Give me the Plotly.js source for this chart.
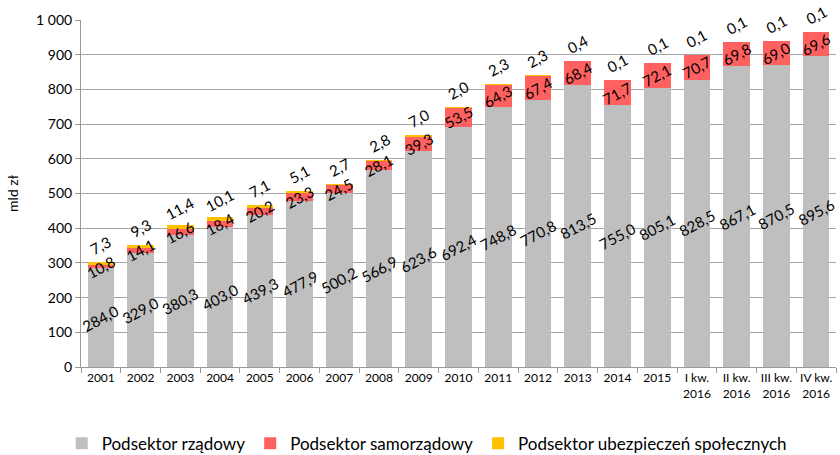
<!DOCTYPE html>
<html>
<head>
<meta charset="utf-8">
<script src="https://cdn.plot.ly/plotly-3.0.1.min.js"></script>
<style>
  html, body { margin: 0; padding: 0; background: #fff; }
  #chart { width: 840px; height: 455px; }
</style>
</head>
<body>
<div id="chart"></div>
<script>
// Dług publiczny wg podsektorów (mld zł)
const categories = ['2001', '2002', '2003', '2004', '2005', '2006', '2007', '2008', '2009', '2010',
    '2011', '2012', '2013', '2014', '2015', 'I kw.<br>2016', 'II kw.<br>2016', 'III kw.<br>2016', 'IV kw.<br>2016'];
const rzadowy = [284.0, 329.0, 380.3, 403.0, 439.3, 477.9, 500.2, 566.9, 623.6, 692.4,
    748.8, 770.8, 813.5, 755.0, 805.1, 828.5, 867.1, 870.5, 895.6];
const samorzadowy = [10.8, 14.1, 16.6, 18.4, 20.2, 23.3, 24.5, 28.1, 39.3, 53.5,
    64.3, 67.4, 68.4, 71.7, 72.1, 70.7, 69.8, 69.0, 69.6];
const ubezpieczen = [7.3, 9.3, 11.4, 10.1, 7.1, 5.1, 2.7, 2.8, 7.0, 2.0,
    2.3, 2.3, 0.4, 0.1, 0.1, 0.1, 0.1, 0.1, 0.1];

const fontFamily = 'Lato, "Open Sans", sans-serif';
const labelFont = { family: fontFamily, size: 15, color: '#000' };

function fmt(v) {
    return v.toFixed(1).replace('.', ',');
}

const data = [
    { type: 'bar', name: 'Podsektor rządowy', x: categories, y: rzadowy, marker: { color: '#bfbfbf' } },
    { type: 'bar', name: 'Podsektor samorządowy', x: categories, y: samorzadowy, marker: { color: '#ff6161' } },
    { type: 'bar', name: 'Podsektor ubezpieczeń społecznych', x: categories, y: ubezpieczen, marker: { color: '#ffc000' } }
];

// data labels as annotations so they stay on top of the stacked segments
// (x given as category index, since names like "2001" would be read as numbers)
const annotations = [];
categories.forEach((c, i) => {
    const g = rzadowy[i], s = samorzadowy[i], u = ubezpieczen[i];
    const base = { x: i, xref: 'x', yref: 'y', showarrow: false, textangle: -28, font: labelFont };
    annotations.push(Object.assign({}, base, { y: g / 2, text: fmt(g) }));
    annotations.push(Object.assign({}, base, { y: g + s / 2, text: fmt(s) }));
    annotations.push(Object.assign({}, base, { y: g + s + u, yshift: 17, text: fmt(u) }));
});

const layout = {
    width: 840,
    height: 455,
    barmode: 'stack',
    bargap: 0.33,
    separators: ', ',
    margin: { l: 81, r: 4, t: 20, b: 88 },
    paper_bgcolor: '#fff',
    plot_bgcolor: '#fff',
    font: { family: fontFamily, size: 13, color: '#000' },
    annotations: annotations,
    xaxis: {
        type: 'category',
        range: [-0.5, categories.length - 0.5],
        automargin: false,
        tickson: 'boundaries',
        ticks: 'outside',
        ticklen: 5,
        tickcolor: '#999',
        showline: true,
        linecolor: '#999',
        tickfont: { family: fontFamily, size: 12 },
        tickangle: 0
    },
    yaxis: {
        range: [0, 1000],
        dtick: 100,
        tickformat: ',d',
        automargin: false,
        ticks: 'outside',
        ticklen: 5,
        tickcolor: '#999',
        showline: true,
        linecolor: '#999',
        gridcolor: '#a6a6a6',
        zeroline: false,
        tickfont: { family: fontFamily, size: 14 },
        title: { text: 'mld zł', font: { family: fontFamily, size: 14 }, standoff: 14 }
    },
    legend: {
        orientation: 'h',
        x: 0.508,
        xanchor: 'center',
        xref: 'container',
        yref: 'container',
        y: 0.025,
        yanchor: 'middle',
        font: { family: fontFamily, size: 17 },
        itemwidth: 30,
        traceorder: 'normal'
    },
    showlegend: true
};

Plotly.newPlot('chart', data, layout, { displayModeBar: false, staticPlot: true });
</script>
</body>
</html>
